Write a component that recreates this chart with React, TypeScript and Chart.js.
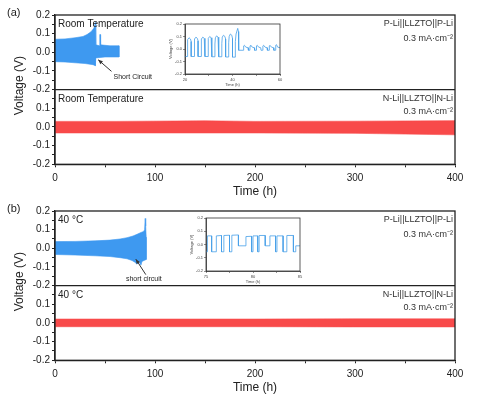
import React, { useEffect, useRef } from 'react';
import { Chart, registerables } from 'chart.js';

Chart.register(...registerables);

// ---------------- DATA ----------------
type Pt = [number, number];

const mainXTickLabels = [0, 100, 200, 300, 400];
const yTickLabels = [0.2, 0.1, 0.0, -0.1, -0.2];

// (a) P-Li||LLZTO||P-Li, room temperature: envelope of the cycling band
const aBlueTop: Pt[] = [[0, 0.07], [10, 0.072], [20, 0.078], [28, 0.085], [32, 0.095], [36, 0.11], [39, 0.13], [40.4, 0.16], [40.8, 0.04], [44.6, 0.035], [44.8, 0.095], [45.4, 0.095], [45.6, 0.04], [55, 0.035], [64, 0.035]];
const aBlueBottom: Pt[] = [[0, -0.05], [10, -0.052], [20, -0.056], [30, -0.06], [38, -0.066], [40.4, -0.072], [40.8, -0.03], [50, -0.025], [64, -0.025]];
// (a) N-Li||LLZTO||N-Li
const aRedTop: Pt[] = [[0, 0.03], [60, 0.03], [120, 0.032], [150, 0.033], [200, 0.03], [300, 0.031], [400, 0.034]];
const aRedBottom: Pt[] = [[0, -0.032], [100, -0.032], [200, -0.032], [300, -0.034], [400, -0.042]];

// (b) P-Li||LLZTO||P-Li, 40 °C
const bBlueTop: Pt[] = [[0, 0.036], [20, 0.037], [40, 0.04], [55, 0.044], [65, 0.05], [72, 0.057], [78, 0.066], [82, 0.075], [86, 0.085], [88.5, 0.09], [89.6, 0.1], [90.2, 0.16], [90.7, 0.12], [91.2, 0.06]];
const bBlueBottom: Pt[] = [[0, -0.033], [20, -0.036], [40, -0.04], [55, -0.044], [65, -0.05], [72, -0.056], [77, -0.065], [80, -0.075], [82, -0.085], [84, -0.07], [86, -0.09], [87, -0.07], [89, -0.065], [91.2, -0.06]];
// (b) N-Li||LLZTO||N-Li
const bRedTop: Pt[] = [[0, 0.021], [100, 0.021], [200, 0.021], [300, 0.022], [400, 0.022]];
const bRedBottom: Pt[] = [[0, -0.02], [100, -0.02], [200, -0.02], [300, -0.021], [400, -0.021]];

// Inset (a): 20–60 h detail
const insetAX = { min: 20, max: 60, step: 10, labels: [20, 40, 60] };
const insetAVoltage: Pt[] = [
  [20, -0.06], [21.0, -0.06], [21.0, 0.03], [21.2, 0.075], [21.7, 0.09], [22.3, 0.08], [22.6, 0.06], [22.6, -0.06],
  [23.9, -0.06], [23.9, 0.035], [24.1, 0.08], [24.6, 0.095], [25.2, 0.085], [25.5, 0.065], [25.5, -0.06],
  [26.8, -0.06], [26.8, 0.035], [27.0, 0.08], [27.5, 0.095], [28.1, 0.085], [28.4, 0.065], [28.4, -0.06],
  [29.7, -0.06], [29.7, 0.04], [29.9, 0.085], [30.4, 0.1], [31.0, 0.09], [31.3, 0.07], [31.3, -0.062],
  [32.6, -0.062], [32.6, 0.04], [32.8, 0.09], [33.3, 0.105], [33.9, 0.095], [34.2, 0.075], [34.2, -0.062],
  [35.5, -0.062], [35.5, 0.045], [35.7, 0.095], [36.2, 0.11], [36.8, 0.1], [37.1, 0.08], [37.1, -0.064],
  [38.4, -0.064], [38.4, 0.05], [38.6, 0.1], [39.1, 0.12], [39.7, 0.11], [40.0, 0.085], [40.0, -0.065],
  [41.2, -0.065], [41.2, 0.06], [41.5, 0.12], [42.2, 0.165], [42.5, 0.14], [42.6, -0.01],
  [44.6, -0.01], [44.7, 0.025], [45.0, 0.03], [45.6, 0.015], [46.6, 0.01], [46.7, -0.01],
  [47.3, -0.01], [47.4, 0.025], [47.7, 0.03], [48.3, 0.015], [49.2, 0.01], [49.3, -0.01],
  [50.0, -0.01], [50.1, 0.025], [50.4, 0.03], [51.0, 0.015], [51.9, 0.01], [52.0, -0.01],
  [52.7, -0.01], [52.8, 0.025], [53.1, 0.03], [53.7, 0.015], [54.6, 0.01], [54.7, -0.01],
  [55.4, -0.01], [55.5, 0.025], [55.8, 0.03], [56.4, 0.015], [57.3, 0.01], [57.4, -0.01],
  [58.1, -0.01], [58.2, 0.03], [58.5, 0.035], [59.0, 0.015], [60, 0.01],
];

// Inset (b): 75–85 h detail
const insetBX = { min: 75, max: 85, step: 2.5, labels: [75, 80, 85] };
const insetBVoltage: Pt[] = [
  [75, -0.055], [75.15, -0.055], [75.15, 0.065], [75.6, 0.065], [75.6, -0.055],
  [76.1, -0.055], [76.1, 0.065], [76.65, 0.068], [76.65, -0.055],
  [76.9, -0.055], [76.9, 0.068], [77.5, 0.07], [77.5, -0.055],
  [77.75, -0.055], [77.75, 0.07], [78.45, 0.072], [78.45, -0.01], [79.25, -0.01], [79.25, 0.06], [79.85, 0.062], [79.85, -0.055],
  [80.0, -0.055], [80.0, 0.065], [80.5, 0.065], [80.5, -0.055],
  [80.65, -0.055], [80.65, 0.068], [81.3, 0.068], [81.3, -0.01], [81.8, -0.01], [81.8, 0.065], [82.4, 0.065], [82.4, -0.055],
  [82.55, -0.055], [82.55, 0.065], [83.2, 0.065], [83.2, -0.055],
  [83.6, -0.055], [83.6, 0.068], [84.3, 0.068], [84.3, -0.055], [84.55, -0.055], [84.55, -0.01], [85, -0.01],
];

// ---------------- STYLE ----------------
const FONT = '"Liberation Sans", Arial, Helvetica, sans-serif';
const BLUE = 'rgb(62,153,240)';
const RED = 'rgb(248,74,74)';
const INK = '#222';

const pts = (a: Pt[]) => a.map(([x, y]) => ({ x, y }));
const band = (top: Pt[], bottom: Pt[]) => [...pts(top), ...pts(bottom).reverse()];

const fmt = (v: number) => {
  const r = Math.round(v * 100) / 100;
  const hit = yTickLabels.find((t) => Math.abs(t - r) < 1e-6);
  return hit === undefined ? '' : hit.toFixed(1);
};

type PanelInfo = {
  letter: string;
  leftLabel: string;
  upperRight: string[];
  lowerRight: string[];
  arrowFrom: Pt;
  arrowTo: Pt;
  scText: string;
  scAt: Pt;
};

function panelPlugin(p: PanelInfo) {
  return {
    id: 'panelDecor',
    afterDraw(chart: any) {
      const { ctx, chartArea: ca } = chart;
      const yU = chart.scales.yU;
      const yL = chart.scales.yL;
      const x = chart.scales.x;
      ctx.save();
      ctx.strokeStyle = INK;
      ctx.lineWidth = 1.3;
      ctx.strokeRect(ca.left, ca.top, ca.right - ca.left, ca.bottom - ca.top);
      ctx.beginPath();
      ctx.moveTo(ca.left, yU.bottom);
      ctx.lineTo(ca.right, yU.bottom);
      ctx.stroke();

      ctx.fillStyle = INK;
      ctx.textBaseline = 'middle';
      ctx.textAlign = 'left';
      ctx.font = `11px ${FONT}`;
      ctx.fillText(p.letter, 7, 13);

      ctx.font = `10px ${FONT}`;
      ctx.fillText(p.leftLabel, ca.left + 3, yU.top + 9);
      ctx.fillText(p.leftLabel, ca.left + 3, yL.top + 10);

      ctx.fillStyle = '#333';
      ctx.textAlign = 'right';
      ctx.font = `9px ${FONT}`;
      ctx.fillText(p.upperRight[0], ca.right - 2, yU.top + 9);
      ctx.fillText(p.upperRight[1], ca.right - 2, yU.top + 24);
      ctx.fillText(p.lowerRight[0], ca.right - 2, yL.top + 9);
      ctx.fillText(p.lowerRight[1], ca.right - 2, yL.top + 22);

      // Voltage title
      ctx.save();
      ctx.fillStyle = INK;
      ctx.font = `12px ${FONT}`;
      ctx.textAlign = 'center';
      ctx.translate(20, (yU.top + yL.bottom) / 2 - 4);
      ctx.rotate(-Math.PI / 2);
      ctx.fillText('Voltage (V)', 0, 0);
      ctx.restore();

      // short-circuit arrow
      const fx = x.getPixelForValue(p.arrowFrom[0]);
      const fy = yU.getPixelForValue(p.arrowFrom[1]);
      const tx = x.getPixelForValue(p.arrowTo[0]);
      const ty = yU.getPixelForValue(p.arrowTo[1]);
      ctx.strokeStyle = '#333';
      ctx.lineWidth = 1;
      ctx.beginPath();
      ctx.moveTo(fx, fy);
      ctx.lineTo(tx, ty);
      ctx.stroke();
      const ang = Math.atan2(ty - fy, tx - fx);
      ctx.fillStyle = '#333';
      ctx.beginPath();
      ctx.moveTo(tx, ty);
      ctx.lineTo(tx - 5 * Math.cos(ang - 0.4), ty - 5 * Math.sin(ang - 0.4));
      ctx.lineTo(tx - 5 * Math.cos(ang + 0.4), ty - 5 * Math.sin(ang + 0.4));
      ctx.closePath();
      ctx.fill();
      ctx.font = `7px ${FONT}`;
      ctx.textAlign = 'center';
      ctx.fillStyle = INK;
      ctx.fillText(p.scText, x.getPixelForValue(p.scAt[0]), yU.getPixelForValue(p.scAt[1]));
      ctx.restore();
    },
  };
}

function yAxis(hideTop: boolean) {
  return {
    type: 'linear',
    position: 'left',
    stack: 'volt',
    stackWeight: 1,
    min: -0.2,
    max: 0.2,
    afterFit: (s: any) => {
      s.width = 55;
    },
    ticks: {
      stepSize: 0.05,
      autoSkip: false,
      padding: 2,
      color: INK,
      font: { family: FONT, size: 10 },
      callback: (v: number) => {
        if (hideTop && v > 0.19) return '';
        return fmt(v);
      },
    },
    grid: { drawOnChartArea: false, drawTicks: true, tickLength: 3, tickColor: INK, tickWidth: 1 },
    border: { display: true, color: INK, width: 1.3 },
  };
}

function panelConfig(blueTop: Pt[], blueBottom: Pt[], redTop: Pt[], redBottom: Pt[], info: PanelInfo) {
  return {
    type: 'line',
    data: {
      datasets: [
        {
          data: band(blueTop, blueBottom),
          yAxisID: 'yU',
          borderColor: BLUE,
          backgroundColor: BLUE,
          borderWidth: 0.6,
          pointRadius: 0,
          fill: 'shape',
          tension: 0,
        },
        {
          data: band(redTop, redBottom),
          yAxisID: 'yL',
          borderColor: RED,
          backgroundColor: RED,
          borderWidth: 0.6,
          pointRadius: 0,
          fill: 'shape',
          tension: 0,
        },
      ],
    },
    options: {
      animation: false,
      responsive: false,
      devicePixelRatio: 1,
      layout: { padding: { left: 0, right: 28, top: 15, bottom: 0 } },
      plugins: { legend: { display: false }, tooltip: { enabled: false } },
      scales: {
        x: {
          type: 'linear',
          position: 'bottom',
          min: 0,
          max: 400,
          afterFit: (s: any) => {
            s.height = 35.7;
          },
          ticks: {
            stepSize: 50,
            autoSkip: false,
            maxRotation: 0,
            padding: 4.5,
            color: INK,
            font: { family: FONT, size: 10 },
            callback: (v: number) => (mainXTickLabels.includes(v) ? String(v) : ''),
          },
          grid: { drawOnChartArea: false, drawTicks: true, tickLength: 3, tickColor: INK },
          border: { display: true, color: INK, width: 1.3 },
          title: { display: true, text: 'Time (h)', color: INK, font: { family: FONT, size: 12 }, padding: { top: 0, bottom: 1 } },
        },
        yL: { ...yAxis(true), weight: 0 },
        yU: { ...yAxis(false), weight: 1 },
      },
    },
    plugins: [panelPlugin(info)],
  };
}

function insetConfig(data: Pt[], xs: { min: number; max: number; step: number; labels: number[] }) {
  const tiny = { family: FONT, size: 4 };
  return {
    type: 'line',
    data: {
      datasets: [
        {
          data: pts(data),
          borderColor: 'rgb(70,160,232)',
          borderWidth: 0.8,
          pointRadius: 0,
          fill: false,
          tension: 0,
        },
      ],
    },
    options: {
      animation: false,
      responsive: false,
      devicePixelRatio: 1,
      layout: { padding: { left: 0, right: 6, top: 6, bottom: 0 } },
      plugins: { legend: { display: false }, tooltip: { enabled: false } },
      scales: {
        x: {
          type: 'linear',
          min: xs.min,
          max: xs.max,
          afterFit: (s: any) => {
            s.height = 13;
          },
          ticks: {
            stepSize: xs.step,
            autoSkip: false,
            maxRotation: 0,
            padding: 1,
            color: '#444',
            font: tiny,
            callback: (v: number) => (xs.labels.includes(v) ? String(v) : ''),
          },
          grid: { drawOnChartArea: false, tickLength: 2, tickColor: '#444', tickWidth: 0.6 },
          border: { display: true, color: '#333', width: 0.8 },
          title: { display: true, text: 'Time (h)', color: '#444', font: tiny, padding: 0 },
        },
        y: {
          type: 'linear',
          min: -0.2,
          max: 0.2,
          afterFit: (s: any) => {
            s.width = 19;
          },
          ticks: {
            stepSize: 0.1,
            autoSkip: false,
            padding: 1,
            color: '#444',
            font: tiny,
            callback: (v: number) => fmt(v),
          },
          grid: { drawOnChartArea: false, tickLength: 2, tickColor: '#444', tickWidth: 0.6 },
          border: { display: true, color: '#333', width: 0.8 },
          title: { display: true, text: 'Voltage (V)', color: '#444', font: tiny, padding: 2 },
        },
      },
    },
    plugins: [
      {
        id: 'insetFrame',
        afterDraw(chart: any) {
          const { ctx, chartArea: ca } = chart;
          ctx.save();
          ctx.strokeStyle = '#333';
          ctx.lineWidth = 0.8;
          ctx.strokeRect(ca.left, ca.top, ca.right - ca.left, ca.bottom - ca.top);
          ctx.restore();
        },
      },
    ],
  };
}

function ChartCanvas({ config, left, top, width, height }: { config: any; left: number; top: number; width: number; height: number }) {
  const ref = useRef<HTMLCanvasElement>(null);
  useEffect(() => {
    const chart = new Chart(ref.current as HTMLCanvasElement, config);
    return () => chart.destroy();
  }, []);
  return <canvas ref={ref} width={width} height={height} style={{ position: 'absolute', left, top, width, height }} />;
}

const panelA: PanelInfo = {
  letter: '(a)',
  leftLabel: 'Room Temperature',
  upperRight: ['P-Li||LLZTO||P-Li', '0.3 mA·cm⁻²'],
  lowerRight: ['N-Li||LLZTO||N-Li', '0.3 mA·cm⁻²'],
  arrowFrom: [56.5, -0.102],
  arrowTo: [43.2, -0.04],
  scText: 'Short Circuit',
  scAt: [77.8, -0.13],
};

const panelB: PanelInfo = {
  letter: '(b)',
  leftLabel: '40 °C',
  upperRight: ['P-Li||LLZTO||P-Li', '0.3 mA·cm⁻²'],
  lowerRight: ['N-Li||LLZTO||N-Li', '0.3 mA·cm⁻²'],
  arrowFrom: [90.8, -0.141],
  arrowTo: [80.8, -0.058],
  scText: 'short circuit',
  scAt: [88.8, -0.163],
};

export default function App() {
  return (
    <div style={{ position: 'absolute', left: 0, top: 0, width: 483, height: 396, background: '#fff', overflow: 'hidden' }}>
      <ChartCanvas config={panelConfig(aBlueTop, aBlueBottom, aRedTop, aRedBottom, panelA)} left={0} top={0} width={483} height={200} />
      <ChartCanvas config={panelConfig(bBlueTop, bBlueBottom, bRedTop, bRedBottom, panelB)} left={0} top={196} width={483} height={200} />
      <ChartCanvas config={insetConfig(insetAVoltage, insetAX)} left={166} top={18} width={120} height={69} />
      <ChartCanvas config={insetConfig(insetBVoltage, insetBX)} left={187} top={212} width={119} height={72} />
    </div>
  );
}
